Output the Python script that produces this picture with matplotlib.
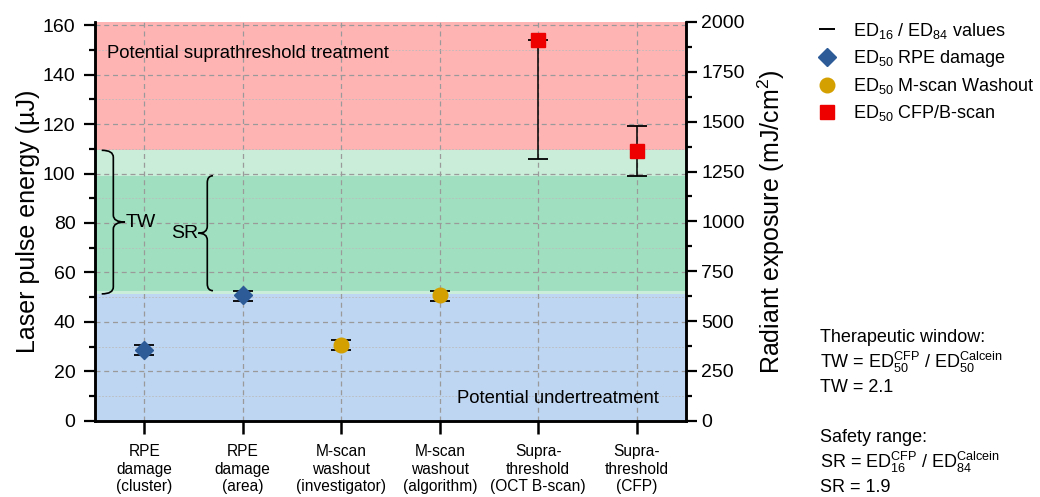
import matplotlib
matplotlib.use("Agg")
import matplotlib.pyplot as plt
from matplotlib.path import Path
from matplotlib.patches import PathPatch
from matplotlib.lines import Line2D
from matplotlib.ticker import MultipleLocator

plt.rcParams['font.family'] = ['Liberation Sans', 'DejaVu Sans']
plt.rcParams['mathtext.fontset'] = 'custom'
plt.rcParams['mathtext.rm'] = 'Liberation Sans'
plt.rcParams['mathtext.it'] = 'Liberation Sans:italic'
plt.rcParams['mathtext.bf'] = 'Liberation Sans:bold'

# ---- data ----
categories = ["RPE\ndamage\n(cluster)", "RPE\ndamage\n(area)",
              "M-scan\nwashout\n(investigator)", "M-scan\nwashout\n(algorithm)",
              "Supra-\nthreshold\n(OCT B-scan)", "Supra-\nthreshold\n(CFP)"]
ed50 = [28.7, 50.8, 30.8, 50.9, 154.2, 109.2]
ed16 = [26.6, 48.6, 28.8, 48.6, 105.9, 99.1]
ed84 = [30.8, 52.6, 32.7, 52.6, 154.2, 119.1]
groups = ["rpe", "rpe", "mscan", "mscan", "supra", "supra"]

# band limits (µJ)
ed50_calcein = 51.3
ed84_calcein = 52.6
ed16_cfp = 99.1
ed50_cfp = 109.4
y_top = 161.3
radiant_top = 2000

style = {
    "rpe":   dict(marker="D", color="#2C5B98", ms=9.5, label=r"ED$_{50}$ RPE damage"),
    "mscan": dict(marker="o", color="#D4A000", ms=10.5, label=r"ED$_{50}$ M-scan Washout"),
    "supra": dict(marker="s", color="#EE0000", ms=9.5, label=r"ED$_{50}$ CFP/B-scan"),
}

fig = plt.figure(figsize=(10.4, 4.97), dpi=100)
ax = fig.add_axes([95/1040, 1-420.7/497, (686-95)/1040, (420.7-22)/497])

x = list(range(1, len(categories) + 1))
ax.set_xlim(0.5, len(categories) + 0.5)
ax.set_ylim(0, y_top)

# treatment zones
ax.axhspan(0, ed50_calcein, color="#BED6F2", lw=0, zorder=0)
ax.axhspan(ed50_calcein, ed50_cfp, color="#C9EDD8", lw=0, zorder=0)
ax.axhspan(ed84_calcein, ed16_cfp, color="#A0E0C0", lw=0, zorder=0)
ax.axhspan(ed50_cfp, y_top, color="#FFB4B4", lw=0, zorder=0)

ax.set_axisbelow(True)
ax.yaxis.set_major_locator(MultipleLocator(20))
ax.yaxis.set_minor_locator(MultipleLocator(10))
ax.grid(True, which="major", axis="both", color="#9A9A9A", ls=(0, (4, 3)), lw=0.9)
ax.grid(True, which="minor", axis="y", color="#BBBBBB", ls=(0, (2, 2)), lw=0.6)

# error bars and ED50 markers
for xi, m, lo, hi, g in zip(x, ed50, ed16, ed84, groups):
    ax.errorbar([xi], [m], yerr=[[m - lo], [hi - m]], fmt="none", ecolor="black",
                elinewidth=1.1, capsize=7.5, capthick=1.3, zorder=3)
    st = style[g]
    ax.plot([xi], [m], ls="none", marker=st["marker"], color=st["color"],
            ms=st["ms"], mec=st["color"], zorder=4)

ax.set_xticks(x)
ax.set_xticklabels(categories, fontsize=11.2, linespacing=1.2)
ax.tick_params(axis="x", which="major", direction="out", length=9, width=1.8, pad=8)
ax.tick_params(axis="y", which="major", direction="out", length=8, width=1.6, labelsize=14, pad=6)
ax.tick_params(axis="y", which="minor", direction="out", length=4.5, width=1.6)
ax.set_ylabel("Laser pulse energy (µJ)", fontsize=18, labelpad=2)

for side in ("left", "bottom", "right"):
    ax.spines[side].set_linewidth(1.8)
ax.spines["top"].set_visible(False)

# radiant exposure axis
ax2 = ax.twinx()
ax2.set_ylim(0, radiant_top)
ax2.yaxis.set_major_locator(MultipleLocator(250))
ax2.yaxis.set_minor_locator(MultipleLocator(125))
ax2.tick_params(axis="y", which="major", direction="out", length=8, width=1.6, labelsize=14, pad=3)
ax2.tick_params(axis="y", which="minor", direction="out", length=4.5, width=1.6)
ax2.set_ylabel("Radiant exposure (mJ/cm$^2$)", fontsize=18, labelpad=8)
for side in ("left", "bottom", "right"):
    ax2.spines[side].set_linewidth(1.8)
ax2.spines["top"].set_visible(False)

# zone captions
ax.text(0.62, 148.6, "Potential suprathreshold treatment", fontsize=13.3, va="center", ha="left", zorder=5)
ax.text(6.22, 9.0, "Potential undertreatment", fontsize=13.3, va="center", ha="right", zorder=5)


def brace(axis, x_end, x_stem, x_tip, y_lo, y_hi, r=2.8):
    ym = 0.5 * (y_lo + y_hi)
    verts = [(x_end, y_hi), (x_stem, y_hi), (x_stem, y_hi - r),
             (x_stem, ym + r), (x_stem, ym), (x_tip, ym),
             (x_stem, ym), (x_stem, ym - r),
             (x_stem, y_lo + r), (x_stem, y_lo), (x_end, y_lo)]
    codes = [Path.MOVETO, Path.CURVE3, Path.CURVE3,
             Path.LINETO, Path.CURVE3, Path.CURVE3,
             Path.CURVE3, Path.CURVE3,
             Path.LINETO, Path.CURVE3, Path.CURVE3]
    axis.add_patch(PathPatch(Path(verts, codes), fc="none", ec="black", lw=1.2, zorder=5))
    return ym


ym_tw = brace(ax, 0.568, 0.686, 0.805, ed50_calcein, ed50_cfp)
ax.text(0.81, ym_tw, "TW", fontsize=14, va="center", ha="left", zorder=5)
ym_sr = brace(ax, 1.698, 1.640, 1.549, ed84_calcein, ed16_cfp)
ax.text(1.545, ym_sr, "SR", fontsize=14, va="center", ha="right", zorder=5)

# legend
handles = [Line2D([], [], ls="none", marker="_", color="black", ms=11, mew=1.4)]
labels = [r"ED$_{16}$ / ED$_{84}$ values"]
for g in ("rpe", "mscan", "supra"):
    st = style[g]
    handles.append(Line2D([], [], ls="none", marker=st["marker"], color=st["color"], ms=st["ms"]))
    labels.append(st["label"])
fig.legend(handles, labels, loc="upper left", bbox_to_anchor=(804/1040, 1 - 8/497),
           frameon=False, fontsize=13, handlelength=1.2, handletextpad=0.8,
           labelspacing=0.4, borderpad=0.2)

# therapeutic window / safety range summary
fs_info = 13
fig.text(820/1040, 1 - 337/497, "Therapeutic window:", fontsize=fs_info, va="center")
fig.text(820/1040, 1 - 362/497,
         r"TW = ED$_{50}^{\mathrm{CFP}}$ / ED$_{50}^{\mathrm{Calcein}}$", fontsize=fs_info, va="center")
fig.text(820/1040, 1 - 388/497, "TW = 2.1", fontsize=fs_info, va="center")
fig.text(820/1040, 1 - 437/497, "Safety range:", fontsize=fs_info, va="center")
fig.text(820/1040, 1 - 462/497,
         r"SR = ED$_{16}^{\mathrm{CFP}}$ / ED$_{84}^{\mathrm{Calcein}}$", fontsize=fs_info, va="center")
fig.text(820/1040, 1 - 488/497, "SR = 1.9", fontsize=fs_info, va="center")

fig.savefig("out.png", dpi=100)
